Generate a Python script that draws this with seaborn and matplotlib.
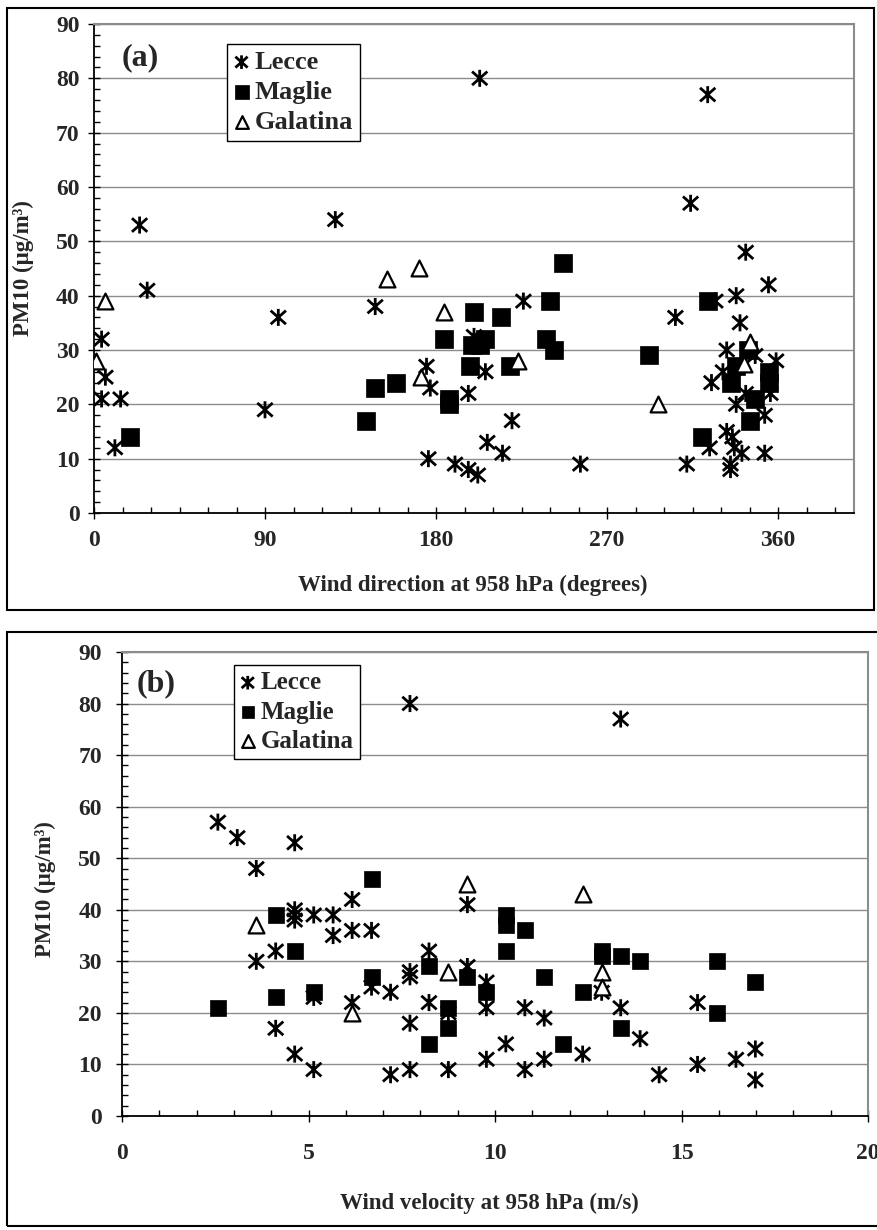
import numpy as np
import pandas as pd
import seaborn as sns
import matplotlib.pyplot as plt
from matplotlib.path import Path
from matplotlib.patches import Rectangle
from matplotlib.ticker import MultipleLocator

# ---------------- panel (a): wind direction (deg) vs PM10 ----------------
lecce_dir = [4, 6, 4, 14, 11, 24, 28, 90, 97, 127, 148, 175, 177, 176, 190, 197, 197,
             202, 203, 200, 206, 207, 215, 220, 226, 256, 306, 312, 314, 323, 327, 325,
             324, 333, 331, 333, 336, 335, 335, 338, 340, 338, 337, 341, 343, 343, 348,
             353, 353, 355, 356, 359]
lecce_dir_pm = [32, 25, 21, 21, 12, 53, 41, 19, 36, 54, 38, 27, 23, 10, 9, 22, 8,
                7, 80, 32.5, 26, 13, 11, 17, 39, 9, 36, 9, 57, 77, 39, 24,
                12, 30, 26, 15, 14, 9, 8, 40, 35, 20, 12, 11, 48, 22, 29,
                18, 11, 42, 22, 28]

maglie_dir = [19, 143, 148, 159, 184, 187, 187, 198, 200, 199, 203, 206, 214, 219,
              238, 240, 242, 247, 292, 320, 323, 335, 338, 344, 345, 348, 355, 355]
maglie_dir_pm = [14, 17, 23, 24, 32, 21, 20, 27, 37, 31, 31, 32, 36, 27,
                 32, 39, 30, 46, 29, 14, 39, 24, 27, 30, 17, 21, 24, 26]

galatina_dir = [1, 6, 154, 171, 172, 184, 223, 297, 345, 342]
galatina_dir_pm = [28, 39, 43, 45, 25, 37, 28, 20, 31.5, 27.5]

# ---------------- panel (b): wind velocity (m/s) vs PM10 ----------------
lecce_vel = [2.57, 3.09, 3.6, 3.6, 4.12, 4.12, 4.63, 4.63, 4.63, 4.63, 4.63, 5.14, 5.14,
             5.14, 5.66, 5.66, 6.17, 6.17, 6.17, 6.69, 6.69, 7.2, 7.2, 7.72, 7.72, 7.72,
             7.72, 7.72, 8.23, 8.23, 8.75, 8.75, 9.26, 9.26, 9.77, 9.77, 9.77, 10.29,
             10.8, 10.8, 11.32, 11.32, 12.35, 12.86, 13.37, 13.37, 13.89, 14.4, 15.43,
             15.43, 16.46, 16.98, 16.98]
lecce_vel_pm = [57, 54, 48, 30, 32, 17, 53, 40, 39, 38, 12, 39, 23,
                9, 39, 35, 42, 36, 22, 36, 25, 24, 8, 80, 28, 27,
                18, 9, 32, 22, 20, 9, 41, 29, 26, 21, 11, 14,
                21, 9, 19, 11, 12, 24, 77, 21, 15, 8, 22,
                10, 11, 13, 7]

maglie_vel = [2.57, 4.12, 4.12, 4.63, 5.14, 6.69, 6.69, 8.23, 8.23, 8.75, 8.75, 9.26,
              9.77, 10.29, 10.29, 10.29, 10.8, 11.32, 11.83, 12.35, 12.86, 12.86, 13.37,
              13.37, 13.89, 15.95, 15.95, 16.98]
maglie_vel_pm = [21, 39, 23, 32, 24, 46, 27, 29, 14, 21, 17, 27,
                 24, 39, 37, 32, 36, 27, 14, 24, 32, 31, 31,
                 17, 30, 30, 20, 26]

galatina_vel = [3.6, 6.17, 8.75, 9.26, 12.35, 12.86, 12.86]
galatina_vel_pm = [37, 20, 28, 45, 43, 28, 25]

sites = ['Lecce', 'Maglie', 'Galatina']


def make_df(xs, ys):
    frames = []
    for site, x, y in zip(sites, xs, ys):
        frames.append(pd.DataFrame({'x': x, 'pm': y, 'site': site}))
    return pd.concat(frames, ignore_index=True)


df_a = make_df([lecce_dir, maglie_dir, galatina_dir],
               [lecce_dir_pm, maglie_dir_pm, galatina_dir_pm])
df_b = make_df([lecce_vel, maglie_vel, galatina_vel],
               [lecce_vel_pm, maglie_vel_pm, galatina_vel_pm])

sns.set_theme(style='white')
plt.rcParams['font.family'] = ['Liberation Serif', 'DejaVu Serif']
plt.rcParams['font.weight'] = 'bold'
plt.rcParams['axes.labelweight'] = 'bold'

# excel style "star" marker: X with a vertical bar
star = Path([(0, -1), (0, 1), (-0.9, -0.8), (0.9, 0.8), (-0.9, 0.8), (0.9, -0.8)],
            [Path.MOVETO, Path.LINETO] * 3)

W, H = 877, 1230
fig = plt.figure(figsize=(W / 100, H / 100), dpi=100)


def px_axes(x0, x1, y_top, y_bot):
    return fig.add_axes([x0 / W, 1 - y_bot / H, (x1 - x0) / W, (y_bot - y_top) / H])


def draw_panel(ax, df, sq, xpad, ypad):
    d = df[df.site == 'Lecce']
    sns.scatterplot(data=d, x='x', y='pm', ax=ax, marker=star, s=150, color='black',
                    facecolor='none', edgecolor='black', linewidth=2.0,
                    label='Lecce', legend=False, zorder=3)
    d = df[df.site == 'Maglie']
    sns.scatterplot(data=d, x='x', y='pm', ax=ax, marker='s', s=sq, color='black',
                    edgecolor='black', linewidth=0.5, label='Maglie', legend=False, zorder=4)
    d = df[df.site == 'Galatina']
    sns.scatterplot(data=d, x='x', y='pm', ax=ax, marker='^', s=130, color='black',
                    facecolor='white', edgecolor='black', linewidth=1.6,
                    label='Galatina', legend=False, zorder=5)

    ax.set_ylim(0, 90)
    ax.yaxis.set_major_locator(MultipleLocator(10))
    ax.yaxis.set_minor_locator(MultipleLocator(2))
    ax.yaxis.grid(True, color='#8c8c8c', linewidth=1)
    ax.xaxis.grid(False)
    ax.set_axisbelow(True)
    for s in ['top', 'right']:
        ax.spines[s].set_color('#8c8c8c')
        ax.spines[s].set_linewidth(1.5)
    for s in ['left', 'bottom']:
        ax.spines[s].set_color('black')
        ax.spines[s].set_linewidth(1.3)
    ax.tick_params(which='major', direction='inout', length=9, width=1, color='black',
                   labelsize=17, left=True, bottom=True)
    ax.tick_params(which='minor', direction='in', length=4.5, width=1, color='black',
                   left=True, bottom=True)
    ax.tick_params(axis='x', which='major', pad=xpad)
    ax.tick_params(axis='y', which='major', pad=ypad)
    ax.set_ylabel('PM10 (μg/m³)', fontsize=16.5, fontweight='bold')


# ---- panel (a)
ax1 = px_axes(94, 854, 24, 513)
draw_panel(ax1, df_a, 150, 8, 6)
ax1.set_xlim(0, 400)
ax1.set_xticks([0, 90, 180, 270, 360])
ax1.xaxis.set_minor_locator(MultipleLocator(15))
ax1.set_xlabel('Wind direction at 958 hPa (degrees)', fontsize=16.5, fontweight='bold')
ax1.xaxis.set_label_coords(0.499, -0.127)
ax1.yaxis.set_label_coords(-0.079, 0.5)

# ---- panel (b)
ax2 = px_axes(122, 868, 652, 1116)
draw_panel(ax2, df_b, 135, 15, 10)
ax2.set_xlim(0, 20)
ax2.xaxis.set_major_locator(MultipleLocator(5))
ax2.xaxis.set_minor_locator(MultipleLocator(1))
ax2.set_xlabel('Wind velocity at 958 hPa (m/s)', fontsize=16.5, fontweight='bold')
ax2.xaxis.set_label_coords(0.492, -0.166)
ax2.yaxis.set_label_coords(-0.088, 0.49)

# legends
for ax, (lx, ly), fs in [(ax1, (227, 44), 19), (ax2, (234, 665), 18)]:
    leg = ax.legend(loc='upper left', bbox_to_anchor=(lx / W, 1 - ly / H),
                    bbox_transform=fig.transFigure, borderaxespad=0, fontsize=fs,
                    frameon=True, fancybox=False, framealpha=1, edgecolor='black',
                    handlelength=0.6, handletextpad=0.2, borderpad=0.25,
                    labelspacing=0.25, scatterpoints=1, markerscale=0.8)
    leg.get_frame().set_linewidth(1.0)

# panel letters
fig.text(122 / W, 1 - 58 / H, '(a)', fontsize=23, fontweight='bold', va='center', ha='left')
fig.text(137 / W, 1 - 684 / H, '(b)', fontsize=23, fontweight='bold', va='center', ha='left')

# black frames round each panel
fig.add_artist(Rectangle((7 / W, 1 - 610 / H), 867 / W, 602 / H, transform=fig.transFigure,
                         fill=False, edgecolor='black', linewidth=1.5))
fig.add_artist(Rectangle((7 / W, 1 - 1226 / H), 900 / W, 594 / H, transform=fig.transFigure,
                         fill=False, edgecolor='black', linewidth=1.5))

fig.savefig('out.png', dpi=100)
